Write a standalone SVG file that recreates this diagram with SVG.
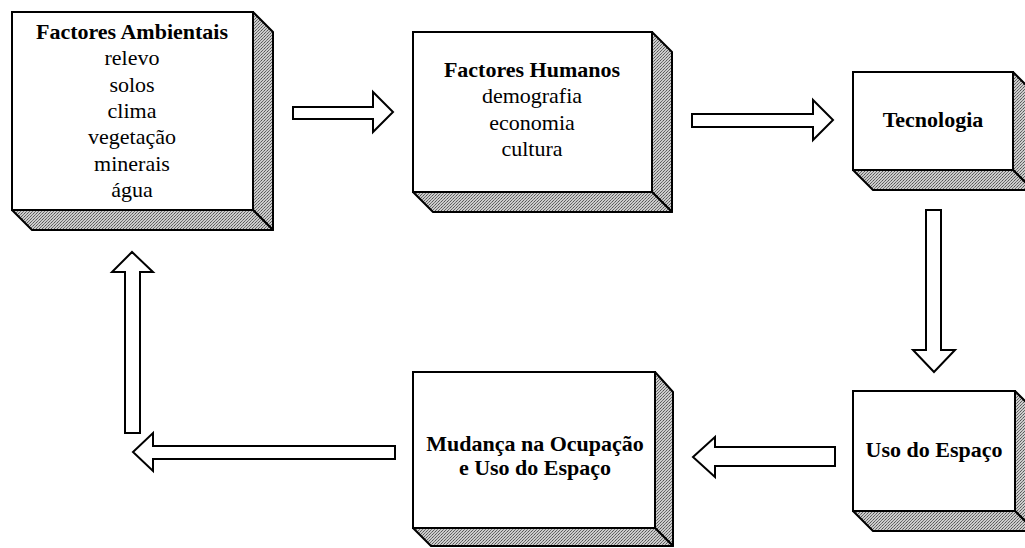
<svg xmlns="http://www.w3.org/2000/svg" width="1025" height="548" viewBox="0 0 1025 548">
<style>
.front{fill:#fff;stroke:#000;stroke-width:2}
.shade{fill:url(#ht);stroke:#000;stroke-width:2;stroke-linejoin:round}
.arrow{fill:#fff;stroke:#000;stroke-width:2;stroke-linejoin:miter}
text{font-family:"Liberation Serif","Times New Roman",serif;font-size:22px;fill:#000;text-anchor:middle}
.b{font-weight:bold}
</style>
<defs>
<pattern id="ht" width="3" height="3" patternUnits="userSpaceOnUse">
<rect width="3" height="3" fill="#cccccc"/>
<rect x="0" y="0" width="1" height="1" fill="#555"/>
<rect x="2" y="1" width="1" height="1" fill="#777"/>
<rect x="1" y="2" width="1" height="1" fill="#666"/>
</pattern>
</defs>
<g id="node-ambientais">
<polygon class="shade" points="253,12 273,32 273,230 253,210"/>
<polygon class="shade" points="12,210 253,210 273,230 32,230"/>
<rect class="front" x="12" y="12" width="241" height="198"/>
<text class="b" x="132" y="39">Factores Ambientais</text>
<text x="132" y="65">relevo</text>
<text x="132" y="92">solos</text>
<text x="132" y="118">clima</text>
<text x="132" y="144">vegetação</text>
<text x="132" y="171">minerais</text>
<text x="132" y="197">água</text>
</g>
<g id="node-humanos">
<polygon class="shade" points="652,32 672,52 672,212 652,192"/>
<polygon class="shade" points="413,192 652,192 672,212 433,212"/>
<rect class="front" x="413" y="32" width="239" height="160"/>
<text class="b" x="532" y="77">Factores Humanos</text>
<text x="532" y="103">demografia</text>
<text x="532" y="130">economia</text>
<text x="532" y="156">cultura</text>
</g>
<g id="node-tecnologia">
<polygon class="shade" points="1013,72 1033,92 1033,190 1013,170"/>
<polygon class="shade" points="853,170 1013,170 1033,190 873,190"/>
<rect class="front" x="853" y="72" width="160" height="98"/>
<text class="b" x="933" y="127">Tecnologia</text>
</g>
<g id="node-uso">
<polygon class="shade" points="1015,391 1035,411 1035,531 1015,511"/>
<polygon class="shade" points="853,511 1015,511 1035,531 873,531"/>
<rect class="front" x="853" y="391" width="162" height="120"/>
<text class="b" x="934" y="457">Uso do Espaço</text>
</g>
<g id="node-mudanca">
<polygon class="shade" points="655,372 673,392 673,546 655,528"/>
<polygon class="shade" points="413,528 655,528 673,546 431,546"/>
<rect class="front" x="413" y="372" width="242" height="156"/>
<text class="b" x="535" y="451">Mudança na Ocupação</text>
<text class="b" x="535" y="475">e Uso do Espaço</text>
</g>
<g id="connectors">
<polygon class="arrow" points="293,107 373,107 373,92 393,112 373,132 373,119 293,119"/>
<polygon class="arrow" points="692,114 813,114 813,100 833,120 813,140 813,127 692,127"/>
<polygon class="arrow" points="926,210 941,210 941,350 955,350 934,372 913,350 926,350"/>
<polygon class="arrow" points="835,447 715,447 715,437 693,457 715,477 715,466 835,466"/>
<polygon class="arrow" points="395,446 153,446 153,433 133,452 153,471 153,459 395,459"/>
<polygon class="arrow" points="125,433 125,272 112,272 132,252 153,272 140,272 140,433"/>
</g>
</svg>
